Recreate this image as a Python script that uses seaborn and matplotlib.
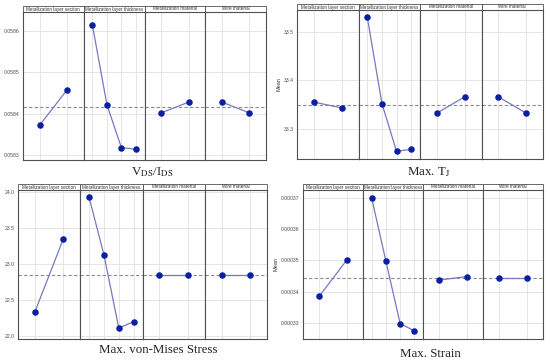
import pandas as pd
import seaborn as sns
import matplotlib.pyplot as plt
from matplotlib.patches import Rectangle

# Factors and their number of levels
factors = ["Metallization layer section", "Metallization layer thickness",
           "Metallization material", "Wire material"]
n_levels = [2, 4, 2, 2]

# Main effect means
vds_means = [[0.058372, 0.058458], [0.058614, 0.058422, 0.058318, 0.058314],
             [0.058402, 0.058428], [0.058428, 0.058402]]
vds_overall = 0.058415
vds_ticks = [0.0583, 0.0584, 0.0585, 0.0586]
vds_ticklabels = ["0.0583", "0.0584", "0.0585", "0.0586"]

tj_means = [[33.355, 33.343], [33.531, 33.352, 33.253, 33.257],
            [33.332, 33.366], [33.366, 33.332]]
tj_overall = 33.348
tj_ticks = [33.3, 33.4, 33.5]
tj_ticklabels = ["33.3", "33.4", "33.5"]

stress_means = [[22.334, 23.342], [23.92, 23.12, 22.106, 22.194],
                [22.838, 22.838], [22.838, 22.838]]
stress_overall = 22.838
stress_ticks = [22.0, 22.5, 23.0, 23.5, 24.0]
stress_ticklabels = ["22.0", "22.5", "23.0", "23.5", "24.0"]

strain_means = [[0.0003386, 0.00035], [0.00037, 0.0003498, 0.0003298, 0.0003275],
                [0.0003437, 0.0003448], [0.0003442, 0.0003442]]
strain_overall = 0.0003442
strain_ticks = [0.00033, 0.00034, 0.00035, 0.00036, 0.00037]
strain_ticklabels = ["0.00033", "0.00034", "0.00035", "0.00036", "0.00037"]

titles = [r"V$_{\mathrm{DS}}$/I$_{\mathrm{DS}}$", r"Max. T$_{\mathrm{J}}$",
          "Max. von-Mises Stress", "Max. Strain"]

sns.set_style("white")
plt.rcParams["font.family"] = ["Liberation Sans", "DejaVu Sans"]
plt.rcParams["mathtext.fontset"] = "stix"

W, H = 550, 363
fig = plt.figure(figsize=(W / 100, H / 100), dpi=100)

line_color = "#7878c0"
dot_color = "#0b1fa3"
edge = "#505050"

# layout in pixels: left, right, top, bottom, ylim, ylabel x, title x, title y
panels = [
    (vds_means, vds_overall, vds_ticks, vds_ticklabels, (0.058288, 0.058646),
     (23, 266, 12, 160), None, (152, 172)),
    (tj_means, tj_overall, tj_ticks, tj_ticklabels, (33.237, 33.546),
     (297, 543, 10, 159), 279, (429, 172)),
    (stress_means, stress_overall, stress_ticks, stress_ticklabels, (21.954, 24.023),
     (18, 267, 190, 339), None, (158, 350)),
    (strain_means, strain_overall, strain_ticks, strain_ticklabels, (0.0003249, 0.0003724),
     (303, 543, 190, 339), 276, (430, 354)),
]

strip_px = 6

for (means, overall, ticks, ticklabels, ylim, box, ylab_x, txy), title in zip(panels, titles):
    left, right, top, bottom = box
    fw = (right - left) / 4
    for k in range(4):
        ax = fig.add_axes([(left + k * fw) / W, 1 - bottom / H,
                           fw / W, (bottom - top) / H])
        n = n_levels[k]
        df = pd.DataFrame({"level": list(range(1, n + 1)), "mean": means[k]})
        ax.axhline(overall, color="#8a8a8a", lw=0.8, ls=(0, (3, 2)), zorder=1)
        sns.lineplot(data=df, x="level", y="mean", ax=ax, color=line_color,
                     lw=0.9, zorder=2)
        sns.scatterplot(data=df, x="level", y="mean", ax=ax, color=dot_color,
                        s=22, edgecolor=dot_color, linewidth=0, zorder=3)
        ax.set_xlim(0.4, n + 0.6)
        ax.set_ylim(*ylim)
        ax.set_xticks(range(1, n + 1))
        ax.set_xticklabels([])
        ax.set_yticks(ticks)
        ax.grid(True, color="#e0e0e0", lw=0.6, zorder=0)
        ax.set_xlabel("")
        ax.set_ylabel("")
        ax.tick_params(axis="x", length=0)
        if k == 0:
            ax.set_yticklabels(ticklabels, fontsize=3.7, color="#4d4d4d")
            ax.tick_params(axis="y", length=1.5, width=0.5, color="#4d4d4d", pad=0.8)
        else:
            ax.set_yticklabels([])
            ax.tick_params(axis="y", length=0)
        for sp in ax.spines.values():
            sp.set_color(edge)
            sp.set_linewidth(0.8)
        sh = strip_px / (bottom - top)
        ax.add_patch(Rectangle((0, 1), 1, sh, transform=ax.transAxes, clip_on=False,
                               facecolor="white", edgecolor=edge, lw=0.6))
        ax.text(0.5, 1 + sh / 2, factors[k], transform=ax.transAxes,
                ha="center", va="center", fontsize=3.3, color="#333333")
    if ylab_x is not None:
        fig.text(ylab_x / W, 1 - (top + bottom) / 2 / H, "Mean", rotation=90,
                 ha="center", va="center", fontsize=4.0, color="#333333")
    fig.text(txy[0] / W, 1 - txy[1] / H, title, ha="center", va="center",
             fontsize=9.3, family="Liberation Serif", color="#222222")

fig.savefig("out.png", dpi=100)
